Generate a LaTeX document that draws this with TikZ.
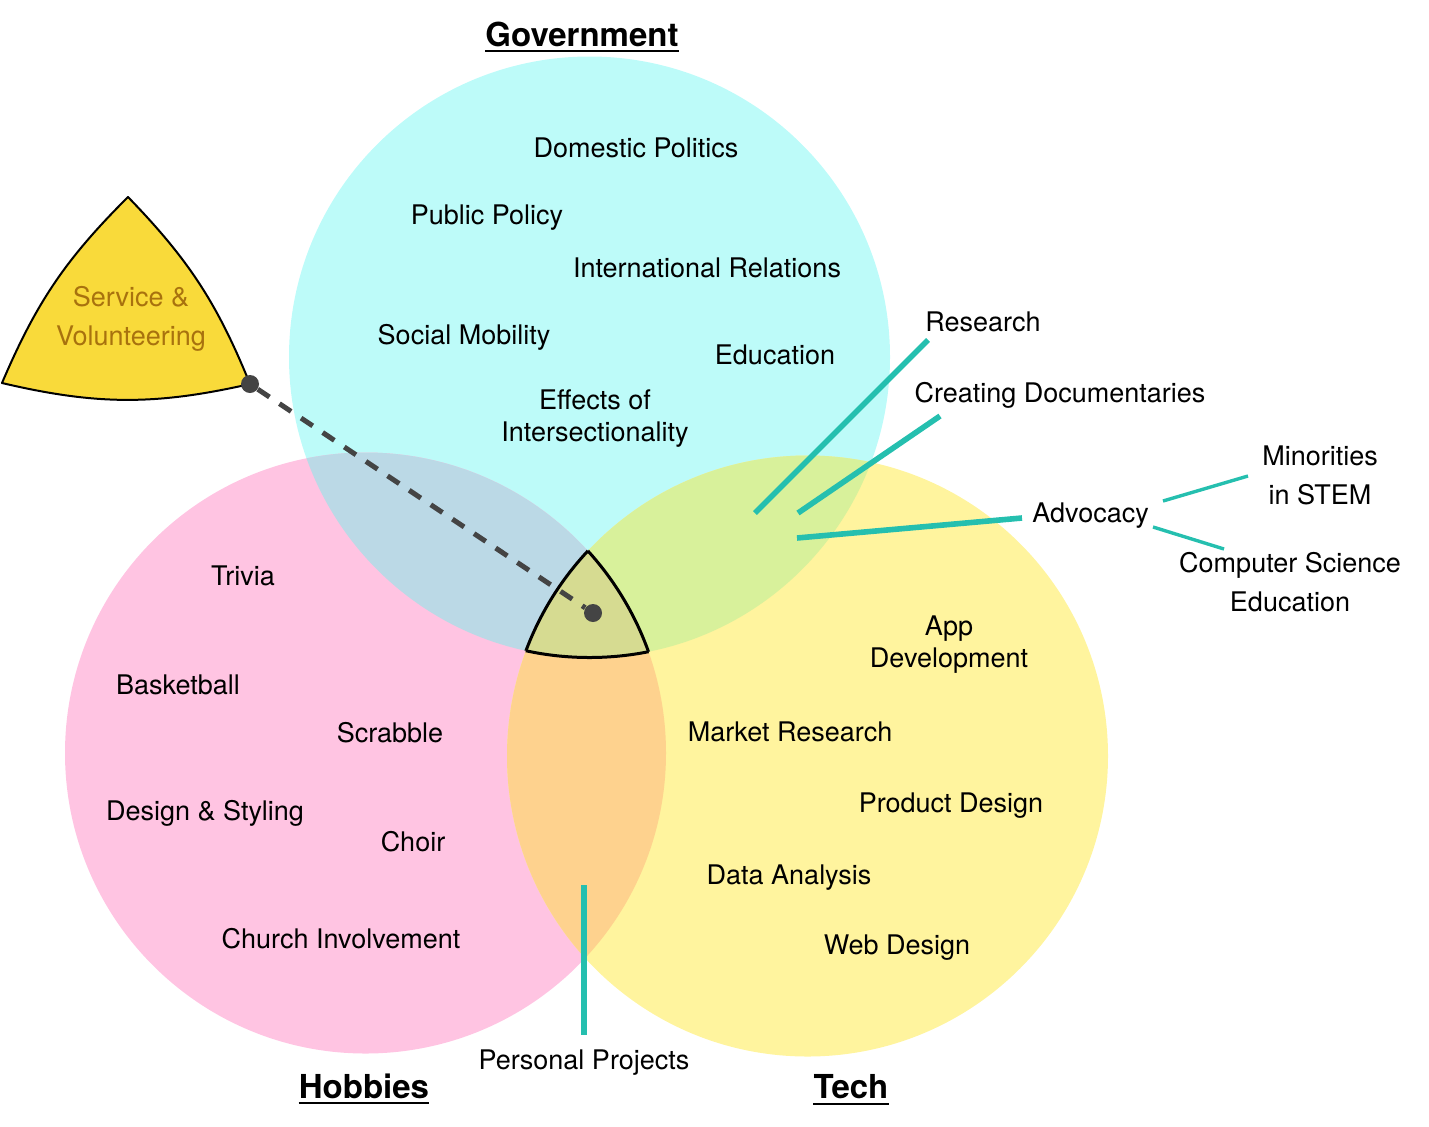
\documentclass[tikz,border=0pt]{standalone}
\usepackage{fontspec}
\setmainfont{TeX Gyre Heros}
\usetikzlibrary{positioning}

\definecolor{govfill}{HTML}{BDFBF9}
\definecolor{hobfill}{HTML}{FFC4E2}
\definecolor{techfill}{HTML}{FFF49E}
\definecolor{govhob}{HTML}{BBD9E6}
\definecolor{govtech}{HTML}{D8F19B}
\definecolor{hobtech}{HTML}{FED28E}
\definecolor{allthree}{HTML}{D6DB91}
\definecolor{svcfill}{HTML}{F9DA3A}
\definecolor{svctext}{HTML}{A8720E}
\definecolor{linkteal}{HTML}{25BFAF}
\definecolor{dotgray}{HTML}{444444}

\newcommand{\setradius}{300.5}

\tikzset{
  topic/.style={font=\fontsize{13.5}{16}\selectfont, align=center, inner sep=0pt},
  topicwide/.style={topic, font=\fontsize{13.5}{19.5}\selectfont},
  settitle/.style={font=\fontsize{16.5}{20}\selectfont\bfseries, inner sep=0pt},
  titlerule/.style={line width=1pt},
  tealline/.style={draw=linkteal, line width=2.8pt},
  tealthin/.style={draw=linkteal, line width=1.7pt},
  dotnode/.style={circle, fill=dotgray, inner sep=0pt, minimum size=9pt},
}

\begin{document}
\begin{tikzpicture}[x=0.5pt,y=-0.5pt]
  \useasboundingbox (0,0) rectangle (1429,1126);

  % Sets
  \coordinate (gov) at (589.5,357);
  \coordinate (hob) at (365.5,753);
  \coordinate (tech) at (807.5,756);

  \fill[govfill] (gov) circle (\setradius);
  \fill[hobfill] (hob) circle (\setradius);
  \fill[techfill] (tech) circle (\setradius);
  \begin{scope}
    \clip (gov) circle (\setradius);
    \fill[govhob] (hob) circle (\setradius);
    \fill[govtech] (tech) circle (\setradius);
  \end{scope}
  \begin{scope}
    \clip (hob) circle (\setradius);
    \fill[hobtech] (tech) circle (\setradius);
    \clip (gov) circle (\setradius);
    \fill[allthree] (tech) circle (\setradius);
  \end{scope}

  % Outline of the core
  \begin{scope}
    \clip (hob) circle (\setradius);
    \clip (tech) circle (\setradius);
    \draw[line width=1.5pt] (gov) circle (\setradius);
  \end{scope}
  \begin{scope}
    \clip (gov) circle (\setradius);
    \clip (tech) circle (\setradius);
    \draw[line width=1.5pt] (hob) circle (\setradius);
  \end{scope}
  \begin{scope}
    \clip (gov) circle (\setradius);
    \clip (hob) circle (\setradius);
    \draw[line width=1.5pt] (tech) circle (\setradius);
  \end{scope}

  % Service shape
  \coordinate (svc_t) at (128,197);
  \coordinate (svc_r) at (250,384);
  \coordinate (svc_l) at (2,383);
  \draw[fill=svcfill, line width=1pt, line join=round]
    (svc_t) to[bend left=11] (svc_r) to[bend left=13] (svc_l) to[bend left=11] (svc_t) -- cycle;
  \node[topicwide, text=svctext] (service) at (131,319) {Service \&\\Volunteering};

  % Titles
  \node[settitle] (gov_title) at (582,34) {Government};
  \node[settitle] (hob_title) at (364,1086) {Hobbies};
  \node[settitle] (tech_title) at (851,1087) {Tech};
  \draw[titlerule] ([yshift=-2pt]gov_title.south west) -- ([yshift=-2pt]gov_title.south east);
  \draw[titlerule] ([yshift=-2pt]hob_title.south west) -- ([yshift=-2pt]hob_title.south east);
  \draw[titlerule] ([yshift=-2pt]tech_title.south west) -- ([yshift=-2pt]tech_title.south east);

  % Government topics
  \node[topic] (domestic) at (636,148) {Domestic Politics};
  \node[topic] (policy) at (487,218) {Public Policy};
  \node[topic] (intl) at (707,268) {International Relations};
  \node[topic] (mobility) at (464,337) {Social Mobility};
  \node[topic] (education) at (775,355) {Education};
  \node[topic] (intersect) at (595,419) {Effects of\\Intersectionality};

  % Hobbies topics
  \node[topic] (trivia) at (243,576) {Trivia};
  \node[topic] (basketball) at (178,685) {Basketball};
  \node[topic] (scrabble) at (390,733) {Scrabble};
  \node[topic] (styling) at (205,813) {Design \& Styling};
  \node[topic] (choir) at (413,842) {Choir};
  \node[topic] (church) at (341,939) {Church Involvement};

  % Tech topics
  \node[topic] (appdev) at (949,645) {App\\Development};
  \node[topic] (market) at (790,732) {Market Research};
  \node[topic] (product) at (951,806) {Product Design};
  \node[topic] (data) at (789,878) {Data Analysis};
  \node[topic] (web) at (897,948) {Web Design};

  % Overlap links
  \coordinate (res_in) at (755,513);
  \coordinate (res_out) at (928,340);
  \coordinate (doc_in) at (798,513);
  \coordinate (doc_out) at (940,416);
  \coordinate (adv_in) at (797,538);
  \coordinate (adv_out) at (1022,518);
  \coordinate (min_in) at (1163,501);
  \coordinate (min_out) at (1248,476);
  \coordinate (cse_in) at (1153,527);
  \coordinate (cse_out) at (1224,549);
  \coordinate (pp_in) at (584,885);
  \coordinate (pp_out) at (584,1035);

  \node[topic] (research) at (983,322) {Research};
  \node[topic] (docs) at (1060,395) {Creating Documentaries};
  \node[topic, anchor=west] (advocacy) at (1032,516) {Advocacy};
  \node[topicwide] (minorities) at (1320,475) {Minorities\\in STEM};
  \node[topicwide] (cs_edu) at (1290,582) {Computer Science\\Education};
  \node[topic, below=7pt of pp_out] (personal) {Personal Projects};

  \draw[tealline] (res_in) -- (res_out);
  \draw[tealline] (doc_in) -- (doc_out);
  \draw[tealline] (adv_in) -- (adv_out);
  \draw[tealthin] (min_in) -- (min_out);
  \draw[tealthin] (cse_in) -- (cse_out);
  \draw[tealline, line width=3pt] (pp_in) -- (pp_out);

  % Service link
  \node[dotnode] (svc_dot) at (svc_r) {};
  \node[dotnode] (core_dot) at (593,613) {};
  \draw[dotgray, line width=2.5pt, dash pattern=on 7pt off 6pt] (svc_dot) -- (core_dot);
\end{tikzpicture}
\end{document}
